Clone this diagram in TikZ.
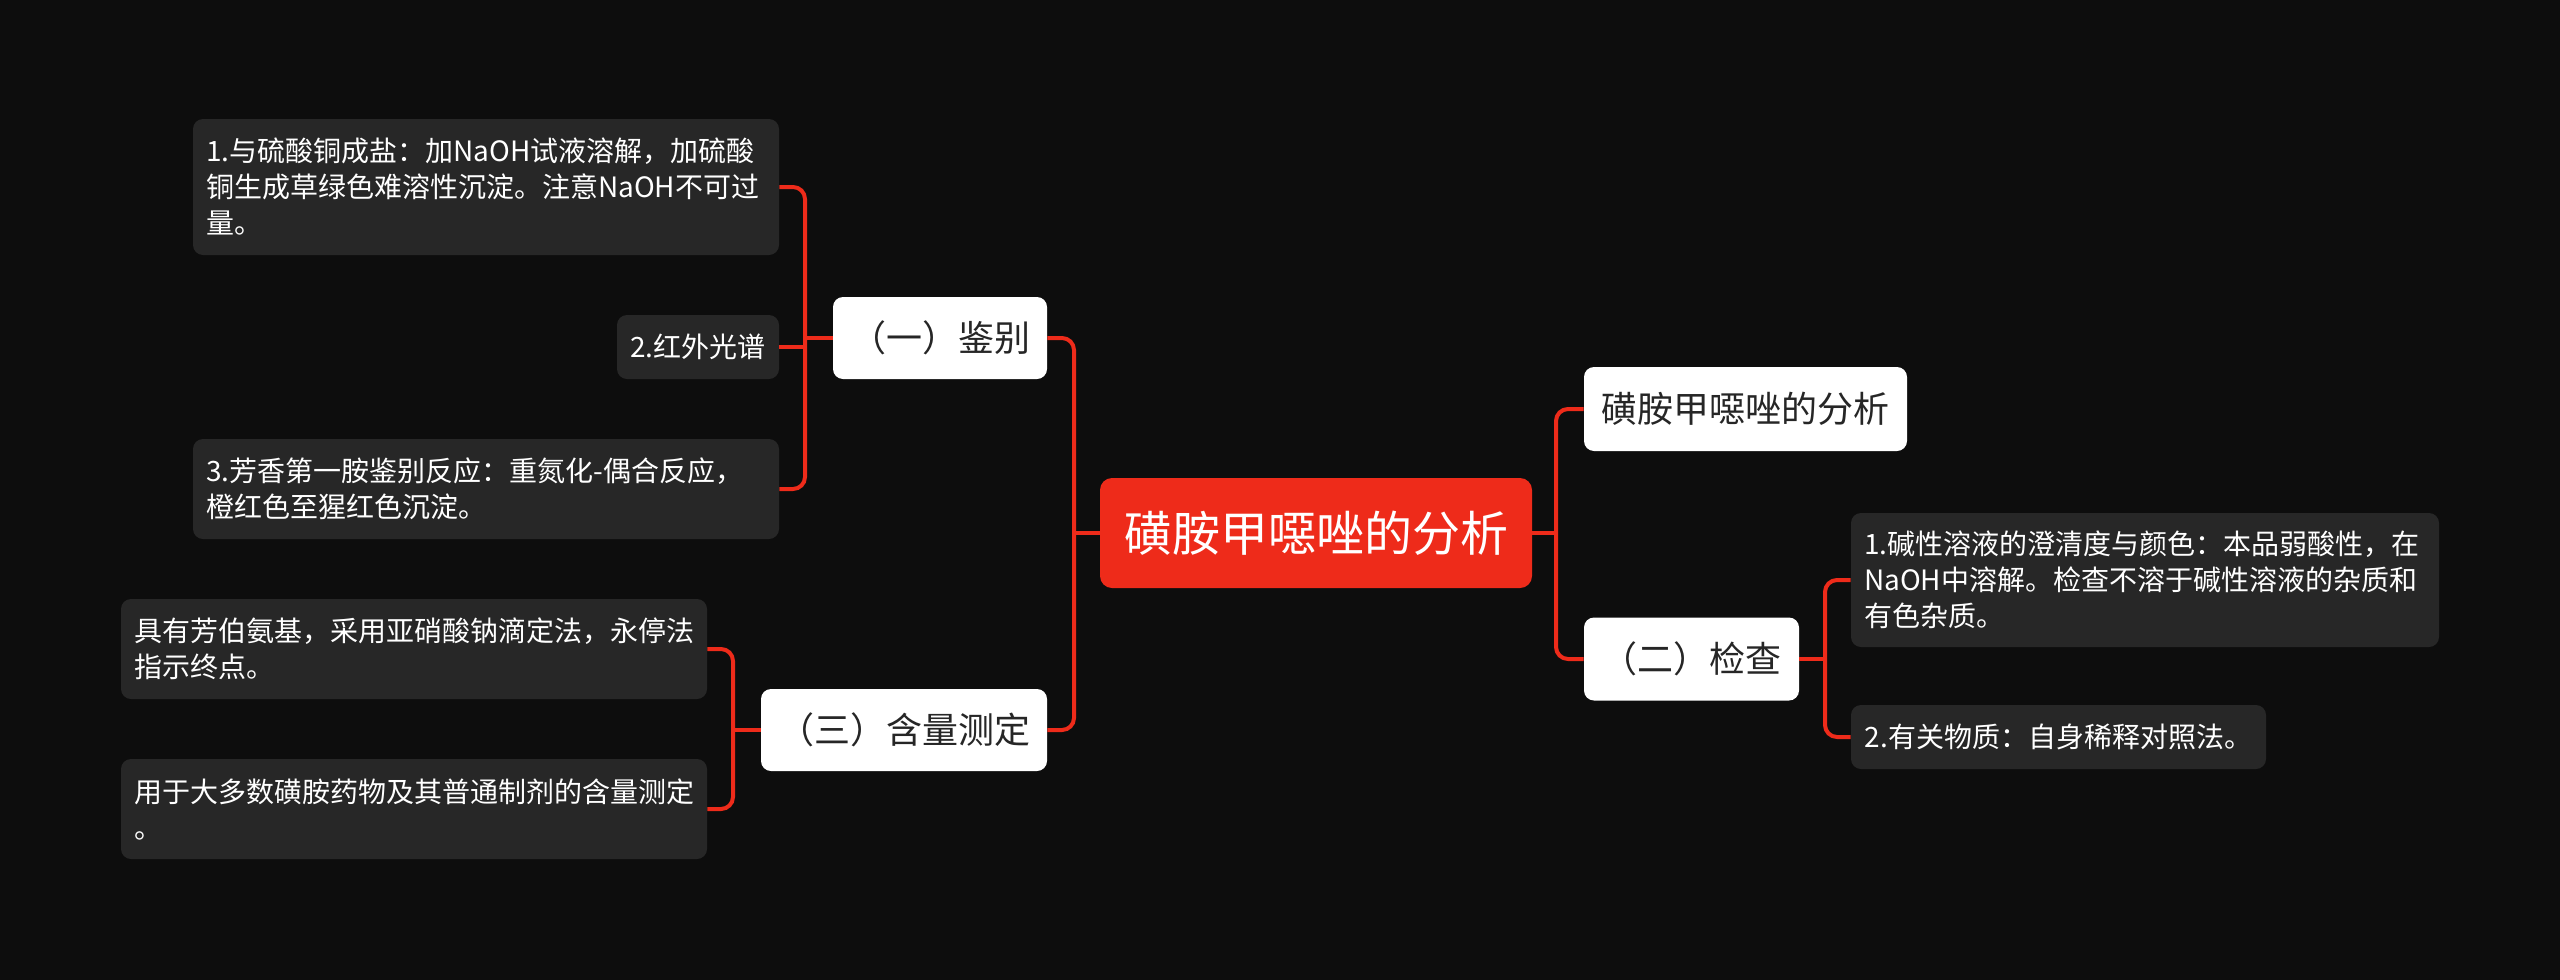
\documentclass[tikz,border=0pt]{standalone}
\usepackage{fontspec}
\newfontfamily\cjk{Noto Sans CJK SC}
\definecolor{bg}{HTML}{0D0D0D}
\definecolor{leaffill}{HTML}{272727}
\definecolor{mred}{HTML}{EE2B1A}
\definecolor{dtext}{HTML}{262626}
\begin{document}
\begin{tikzpicture}[x=0.5pt,y=-0.5pt,
  conn/.style={draw=mred, line width=2pt, rounded corners=6pt},
  leaf/.style={fill=leaffill, rounded corners=5pt, text=white,
    font=\cjk\fontsize{14pt}{18pt}\selectfont, inner xsep=6.5pt, inner ysep=3pt, align=left},
  leafone/.style={leaf, align=center, inner xsep=3pt},
  topic/.style={fill=white, rounded corners=5pt, text=dtext,
    font=\cjk\fontsize{18pt}{22pt}\selectfont, inner sep=0pt, align=center},
  rootbox/.style={fill=mred, rounded corners=6pt, text=white,
    font=\cjk\fontsize{24pt}{28pt}\selectfont, inner sep=0pt, align=center}
]
\fill[bg] (0,0) rectangle (2560,980);
\useasboundingbox (0,0) rectangle (2560,980);

% root
\node[rootbox, minimum width=216pt, minimum height=55pt] (root) at (1316,533) {磺胺甲噁唑的分析};

% left topics
\node[topic, minimum width=107pt, minimum height=41pt] (c1) at (940,338) {（一）鉴别};
\node[topic, minimum width=143pt, minimum height=41pt] (c3) at (904,730) {（三）含量测定};

% right topics
\node[topic, minimum width=161.5pt, minimum height=42pt] (rc1) at (1745.5,409) {磺胺甲噁唑的分析};
\node[topic, minimum width=107.5pt, minimum height=41.5pt] (rc2) at (1691.5,659) {（二）检查};

% leaves of (一)
\node[leaf, text width=280pt, minimum height=68pt] (l1) at (486,187)
  {1.与硫酸铜成盐：加NaOH试液溶解，加硫酸\\铜生成草绿色难溶性沉淀。注意NaOH不可过\\量。};
\node[leafone, minimum width=81pt, minimum height=32pt] (l2) at (698,347) {2.红外光谱};
\node[leaf, text width=280pt, minimum height=50pt] (l3) at (486,489)
  {3.芳香第一胺鉴别反应：重氮化-偶合反应，\\橙红色至猩红色沉淀。};

% leaves of (三)
\node[leaf, text width=280pt, minimum height=50pt] (l4) at (414,649)
  {具有芳伯氨基，采用亚硝酸钠滴定法，永停法\\指示终点。};
\node[leaf, text width=280pt, minimum height=50pt] (l5) at (414,809)
  {用于大多数磺胺药物及其普通制剂的含量测定\\。};

% leaves of (二)
\node[leaf, text width=281pt, minimum height=67pt] (r1) at (2145,580)
  {1.碱性溶液的澄清度与颜色：本品弱酸性，在\\NaOH中溶解。检查不溶于碱性溶液的杂质和\\有色杂质。};
\node[leafone, minimum width=207.5pt, minimum height=32pt] (r2) at (2058.5,737) {2.有关物质：自身稀释对照法。};

% junctions
\coordinate (jL) at (1074,533);
\coordinate (jR) at (1556,533);
\coordinate (jL1) at (805,338);
\coordinate (jL3) at (733,730);
\coordinate (jR2) at (1825,659);

% connectors
\draw[conn] (root.west) -- (jL);
\draw[conn] (c1.east) -| (jL) |- (c3.east);
\draw[conn] (root.east) -- (jR);
\draw[conn] (rc1.west) -| (jR) |- (rc2.west);

\draw[conn] (c1.west) -- (jL1);
\draw[conn] (l1.east) -| (jL1) |- (l3.east);
\draw[conn] (l2.east) -- (l2.east -| jL1);

\draw[conn] (c3.west) -- (jL3);
\draw[conn] (l4.east) -| (jL3) |- (l5.east);

\draw[conn] (rc2.east) -- (jR2);
\draw[conn] (r1.west) -| (jR2) |- (r2.west);
\end{tikzpicture}
\end{document}
